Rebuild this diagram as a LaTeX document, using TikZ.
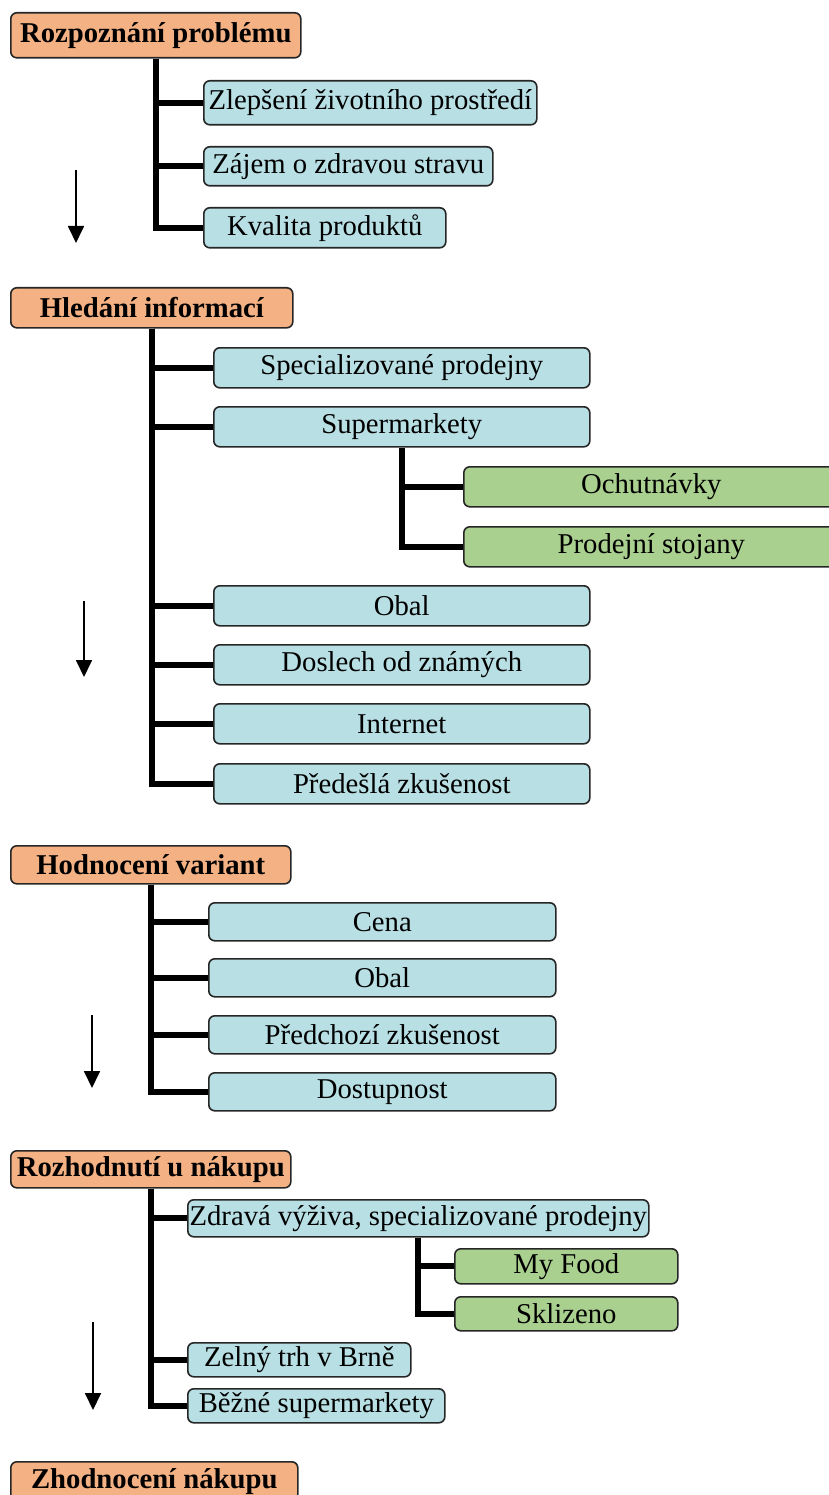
\documentclass[tikz,border=0pt]{standalone}
\usepackage{fontspec}
\setmainfont{Liberation Serif}
\usetikzlibrary{arrows.meta}
\definecolor{stageorange}{RGB}{244,177,131}
\definecolor{itemblue}{RGB}{184,223,228}
\definecolor{subgreen}{RGB}{169,208,142}
\tikzset{
  box/.style={draw=black!85, line width=1.6pt, rounded corners=6pt, inner sep=0pt,
    anchor=north west, font=\fontsize{28.7}{32}\selectfont},
  stage/.style={box, fill=stageorange, font=\fontsize{28.7}{32}\selectfont\bfseries},
  item/.style={box, fill=itemblue},
  subitem/.style={box, fill=subgreen},
  trunk/.style={line width=6pt},
  flow/.style={line width=1.8pt, -{Triangle[width=16pt,length=17pt]}}
}

\begin{document}
\begin{tikzpicture}[x=1pt, y=-1pt]
  \useasboundingbox (0,0) rectangle (829,1495);
  % Stages
  \node[stage, minimum width=290pt, minimum height=45pt] (h1) at (10,12) {Rozpoznání problému};
  \node[stage, minimum width=282pt, minimum height=40pt] (h2) at (10,287) {Hledání informací};
  \node[stage, minimum width=280pt, minimum height=38pt] (h3) at (10,845) {Hodnocení variant};
  \node[stage, minimum width=280pt, minimum height=37pt] (h4) at (10,1150) {Rozhodnutí u nákupu};
  \node[stage, minimum width=287pt, minimum height=39pt] (h5) at (10,1461) {Zhodnocení nákupu};
  % Rozpoznání problému
  \node[item, minimum width=333pt, minimum height=44pt] (r1) at (203,80) {Zlepšení životního prostředí};
  \node[item, minimum width=289pt, minimum height=39pt] (r2) at (203,146) {Zájem o zdravou stravu};
  \node[item, minimum width=242pt, minimum height=40pt] (r3) at (203,207) {Kvalita produktů};
  \foreach \n in {r1,r2,r3}
    \draw[trunk] (h1.south) |- (\n.west);
  % Hledání informací
  \node[item, minimum width=376pt, minimum height=40pt] (s1) at (213,347) {Specializované prodejny};
  \node[item, minimum width=376pt, minimum height=40pt] (s2) at (213,406) {Supermarkety};
  \node[item, minimum width=376pt, minimum height=40pt] (s3) at (213,585) {Obal};
  \node[item, minimum width=376pt, minimum height=40pt] (s4) at (213,644) {Doslech od známých};
  \node[item, minimum width=376pt, minimum height=40pt] (s5) at (213,703) {Internet};
  \node[item, minimum width=376pt, minimum height=40pt] (s6) at (213,763) {Předešlá zkušenost};
  \node[subitem, minimum width=375pt, minimum height=40pt] (g1) at (463,466) {Ochutnávky};
  \node[subitem, minimum width=375pt, minimum height=40pt] (g2) at (463,526) {Prodejní stojany};
  \foreach \n in {s1,s2,s3,s4,s5,s6}
    \draw[trunk] (h2.south) |- (\n.west);
  \foreach \n in {g1,g2}
    \draw[trunk] (s2.south) |- (\n.west);
  % Hodnocení variant
  \node[item, minimum width=347pt, minimum height=38pt] (v1) at (208,902) {Cena};
  \node[item, minimum width=347pt, minimum height=38pt] (v2) at (208,958) {Obal};
  \node[item, minimum width=347pt, minimum height=38pt] (v3) at (208,1015) {Předchozí zkušenost};
  \node[item, minimum width=347pt, minimum height=38pt] (v4) at (208,1072) {Dostupnost};
  \foreach \n in {v1,v2,v3,v4}
    \draw[trunk] (h3.south) |- (\n.west);
  % Rozhodnutí u nákupu
  \node[item, minimum width=461pt, minimum height=37pt] (n1) at (187,1199) {Zdravá výživa, specializované prodejny};
  \node[item, minimum width=223pt, minimum height=34pt] (n2) at (187,1342) {Zelný trh v Brně};
  \node[item, minimum width=257pt, minimum height=34pt] (n3) at (187,1388) {Běžné supermarkety};
  \node[subitem, minimum width=223pt, minimum height=35pt] (m1) at (454,1248) {My Food};
  \node[subitem, minimum width=223pt, minimum height=34pt] (m2) at (454,1296) {Sklizeno};
  \foreach \n in {n1,n2,n3}
    \draw[trunk] (h4.south) |- (\n.west);
  \foreach \n in {m1,m2}
    \draw[trunk] (n1.south) |- (\n.west);
  % Arrows
  \coordinate (a1s) at (76,170);  \coordinate (a1e) at (76,243);
  \coordinate (a2s) at (84,601);  \coordinate (a2e) at (84,677);
  \coordinate (a3s) at (92,1015); \coordinate (a3e) at (92,1088);
  \coordinate (a4s) at (93,1322); \coordinate (a4e) at (93,1410);
  \foreach \k in {1,...,4}
    \draw[flow] (a\k s) -- (a\k e);
\end{tikzpicture}
\end{document}
